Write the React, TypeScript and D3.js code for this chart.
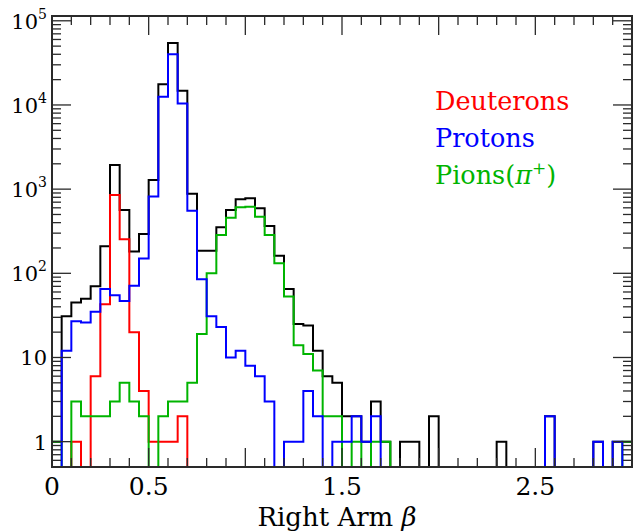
import React from "react";
import * as d3 from "d3";

// Histogram bins: 60 bins of width 0.05 on [0, 3]
const BIN_WIDTH = 0.05;
const X_MIN = 0;
const X_MAX = 3;

// Counts per bin
const allCounts = [
  1, 31, 45, 50, 70, 210, 1930, 565, 181, 293,
  1280, 17650, 54500, 14800, 880, 185, 185, 352, 565, 757,
  778, 592, 365, 162, 65, 25, 24, 12, 6, 5,
  2, 2, 1, 3, 1, 0, 1, 1, 0, 2,
  0, 0, 0, 0, 0, 0, 1, 0, 0, 0,
  0, 2, 0, 0, 0, 0, 1, 0, 1, 1,
];
const deuteronCounts = [
  0, 0, 1, 0, 6, 43, 851, 254, 20, 4,
  1, 1, 1, 2, 0, 0, 0, 0, 0, 0,
  0, 0, 0, 0, 0, 0, 0, 0, 0, 0,
  0, 0, 0, 0, 0, 0, 0, 0, 0, 0,
  0, 0, 0, 0, 0, 0, 0, 0, 0, 0,
  0, 0, 0, 0, 0, 0, 0, 0, 0, 0,
];
const protonCounts = [
  0, 12, 27, 26, 35, 65, 55, 47, 71, 150,
  815, 12500, 40000, 10400, 554, 85, 31, 23, 10, 12,
  8, 6, 3, 0, 1, 1, 4, 2, 0, 1,
  1, 2, 1, 2, 0, 0, 0, 0, 0, 0,
  0, 0, 0, 0, 0, 0, 0, 0, 0, 0,
  0, 2, 0, 0, 0, 0, 1, 0, 1, 0,
];
const pionCounts = [
  1, 0, 3, 2, 2, 2, 3, 5, 3, 2,
  0, 2, 3, 3, 5, 19, 100, 286, 458, 608,
  618, 471, 286, 132, 53, 14, 11, 7, 2, 2,
  0, 1, 0, 1, 1, 0, 0, 0, 0, 0,
  0, 0, 0, 0, 0, 0, 0, 0, 0, 0,
  0, 0, 0, 0, 0, 0, 0, 0, 0, 1,
];

const xTickLabels = ["0", "0.5", "1.5", "2.5"];
const xTickLabelValues = [0, 0.5, 1.5, 2.5];
const yDecadeExponents = [0, 1, 2, 3, 4, 5];
const legendLabels = ["Deuterons", "Protons", "Pions"];

const Y_MIN = 0.5;
const Y_MAX = 1.14e5;

const W = 639;
const H = 531;
const M = { left: 52, right: 639 - 632, top: 16, bottom: 531 - 467 };

const FONT = '"DejaVu Serif", "Liberation Serif", serif';
const AXIS_COLOR = "#2a2a2a";
const GREEN = "#00b400";

export default function App() {
  const x = d3.scaleLinear().domain([X_MIN, X_MAX]).range([M.left, W - M.right]);
  const y = d3.scaleLog().domain([Y_MIN, Y_MAX]).range([H - M.bottom, M.top]);

  const line = d3
    .line<[number, number]>()
    .x((d) => x(d[0]))
    .y((d) => y(d[1]));

  const stepPath = (vals: number[]) => {
    const pts: [number, number][] = [[X_MIN, Y_MIN]];
    vals.forEach((v, i) => {
      const yv = Math.max(v, Y_MIN);
      pts.push([i * BIN_WIDTH, yv], [(i + 1) * BIN_WIDTH, yv]);
    });
    pts.push([vals.length * BIN_WIDTH, Y_MIN]);
    return line(pts) || "";
  };

  const x0 = M.left;
  const x1 = W - M.right;
  const y0 = H - M.bottom;
  const y1 = M.top;

  const xMinor = d3.range(0, 31).map((k) => k / 10);
  const majorLen = 19;
  const minorLen = 9;

  const yTicks: { v: number; major: boolean }[] = [];
  for (let e = -1; e <= 5; e++) {
    for (let k = 1; k <= 9; k++) {
      const v = k * Math.pow(10, e);
      if (v >= Y_MIN && v <= Y_MAX) yTicks.push({ v, major: k === 1 });
    }
  }

  const series = [
    { vals: allCounts, color: "#000000" },
    { vals: deuteronCounts, color: "#ff0000" },
    { vals: pionCounts, color: GREEN },
    { vals: protonCounts, color: "#0000ff" },
  ];

  const txt = { fontFamily: FONT } as React.CSSProperties;

  return (
    <svg
      width={W}
      height={H}
      style={{ position: "absolute", left: 0, top: 0, background: "#fff", fontFamily: FONT }}
    >
      <defs>
        <clipPath id="plotclip">
          <rect x={x0} y={y1} width={x1 - x0} height={y0 - y1} />
        </clipPath>
      </defs>
      <rect x={0} y={0} width={W} height={H} fill="#fff" />
      <g clipPath="url(#plotclip)">
        {series.map((s, i) => (
          <path
            key={i}
            d={stepPath(s.vals)}
            fill="none"
            stroke={s.color}
            strokeWidth={2}
            strokeLinejoin="miter"
          />
        ))}
      </g>

      <g stroke={AXIS_COLOR} strokeWidth={1.3}>
        {xMinor.map((v, i) => {
          const major = Math.abs((v * 10) % 5) < 1e-6;
          const len = major ? majorLen : minorLen;
          const px = x(v);
          return (
            <g key={i}>
              <line x1={px} x2={px} y1={y0} y2={y0 - len} />
              <line x1={px} x2={px} y1={y1} y2={y1 + len} />
            </g>
          );
        })}
        {yTicks.map((t, i) => {
          const py = y(t.v);
          const len = t.major ? majorLen : minorLen;
          return (
            <g key={i}>
              <line x1={x0} x2={x0 + len} y1={py} y2={py} />
              <line x1={x1} x2={x1 - len} y1={py} y2={py} />
            </g>
          );
        })}
      </g>

      <rect
        x={x0}
        y={y1}
        width={x1 - x0}
        height={y0 - y1}
        fill="none"
        stroke={AXIS_COLOR}
        strokeWidth={2}
      />

      {xTickLabels.map((lab, i) => (
        <text
          key={lab}
          x={x(xTickLabelValues[i])}
          y={495}
          fontSize={25}
          textAnchor="middle"
          fill="#000"
          style={txt}
        >
          {lab}
        </text>
      ))}

      {yDecadeExponents.map((e) => {
        const py = y(Math.pow(10, e)) + 8;
        if (e === 0)
          return (
            <text key={e} x={47} y={py} fontSize={21} textAnchor="end" style={txt}>
              1
            </text>
          );
        if (e === 1)
          return (
            <text key={e} x={47} y={py} fontSize={21} textAnchor="end" style={txt}>
              10
            </text>
          );
        return (
          <text key={e} x={47} y={py} fontSize={21} textAnchor="end" style={txt}>
            10
            <tspan dy={-10} fontSize={14}>
              {String(e)}
            </tspan>
          </text>
        );
      })}

      <text x={337} y={526} fontSize={26} textAnchor="middle" style={txt}>
        Right Arm <tspan fontStyle="italic">β</tspan>
      </text>

      <text x={435} y={110} fontSize={25.5} fill="#ff0000" style={txt}>
        {legendLabels[0]}
      </text>
      <text x={435} y={147} fontSize={25.5} fill="#0000ff" style={txt}>
        {legendLabels[1]}
      </text>
      <text x={435} y={184} fontSize={25.5} fill={GREEN} style={txt}>
        {legendLabels[2]}(<tspan fontStyle="italic">π</tspan>
        <tspan dy={-10} fontSize={17}>+</tspan>
        <tspan dy={10}>)</tspan>
      </text>
    </svg>
  );
}
